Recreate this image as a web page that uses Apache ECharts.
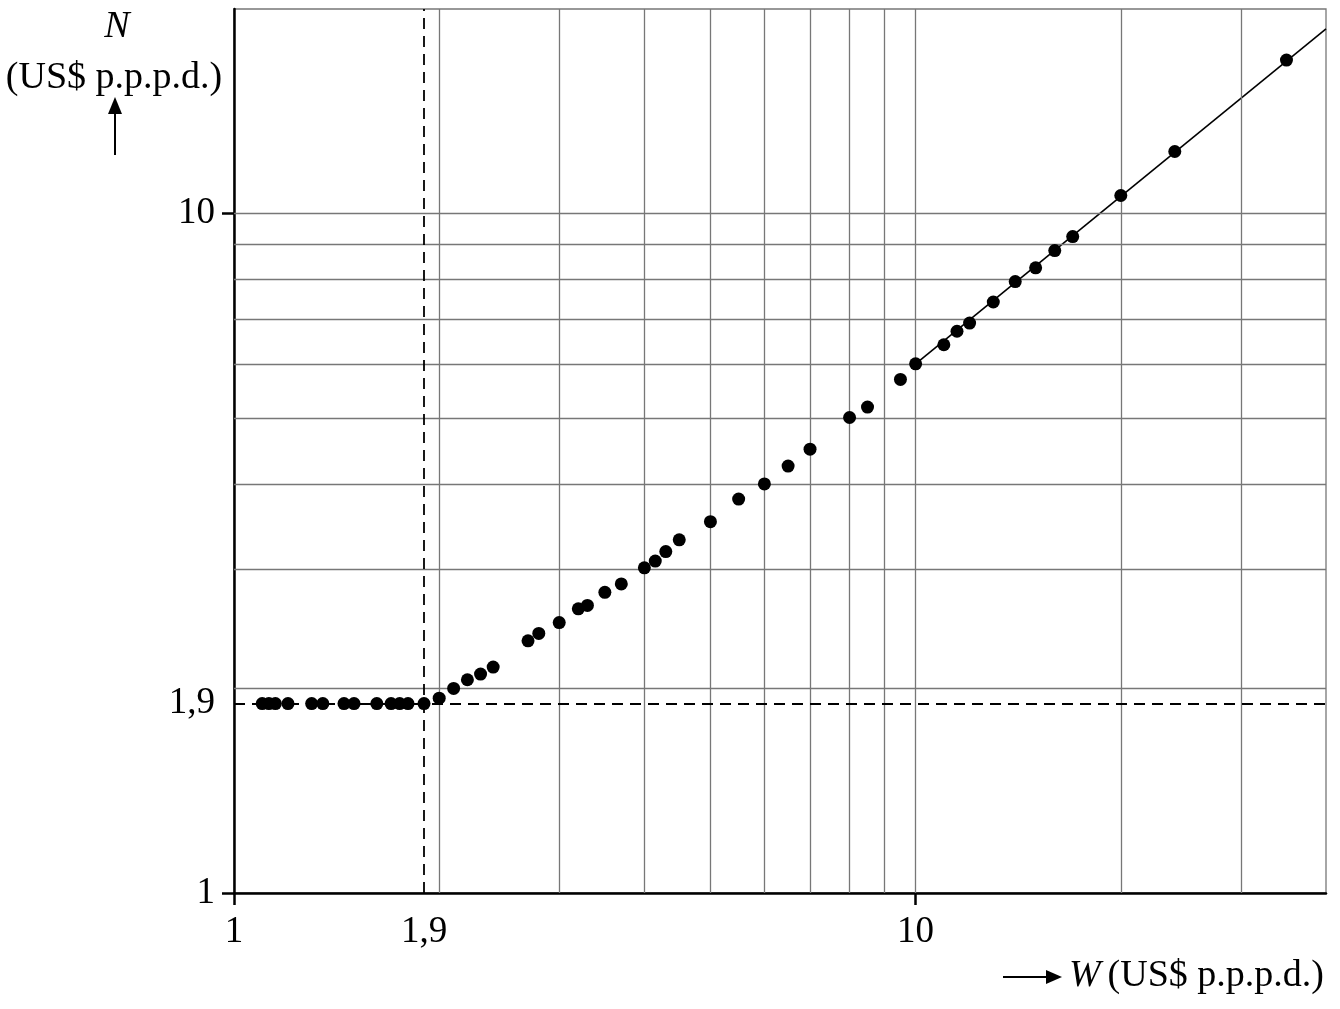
<!DOCTYPE html>
<html>
<head>
<meta charset="utf-8">
<script src="https://cdn.jsdelivr.net/npm/echarts@6/dist/echarts.min.js"></script>
<style>
html,body{margin:0;padding:0;background:#fff;}
#chart{width:1340px;height:1009px;}
</style>
</head>
<body>
<div id="chart"></div>
<script>
// ---- data ----
const W = [1.1,1.125,1.15,1.2,1.3,1.35,1.45,1.5,1.62,1.7,1.75,1.8,1.9,
  2.0,2.1,2.2,2.3,2.4,2.7,2.8,3.0,3.2,3.3,3.5,3.7,4.0,4.15,4.3,4.5,5.0,5.5,6.0,6.5,7.0,8.0,8.5,9.5,10,
  11,11.5,12,13,14,15,16,17,20,24,35];
const N = [1.9,1.9,1.9,1.9,1.9,1.9,1.9,1.9,1.9,1.9,1.9,1.9,1.9,
  1.935,2.0,2.06,2.1,2.15,2.35,2.41,2.5,2.62,2.65,2.77,2.85,3.01,3.08,3.18,3.31,3.52,3.8,4.0,4.25,4.5,5.01,5.19,5.7,6.01,
  6.41,6.71,6.9,7.41,7.94,8.32,8.82,9.25,10.63,12.34,16.82];
const fitW = [10, 40];
const fitN = [6.01, 18.7];
const gridX = [2,3,4,5,6,7,8,9,10,20,30];
const gridY = [2,3,4,5,6,7,8,9,10];
const xTickLabels = [1, 1.9, 10];
const yTickLabels = [1, 1.9, 10];
const majorTicks = [1, 10];
const refW = 1.9;
const refN = 1.9;

const FONT = '"Liberation Serif", "Times New Roman", serif';
const FS = 37;   // tick labels
const FN = 38;   // axis names

const points = W.map((w, i) => [w, N[i]]);
const fit = fitW.map((w, i) => [w, fitN[i]]);

const gridStyle = {color: '#777', width: 1.3, type: 'solid'};
const dashStyle = {color: '#000', width: 1.8, type: [11, 7]};
const markData = []
  .concat(gridX.map(v => ({xAxis: v, lineStyle: gridStyle})))
  .concat(gridY.map(v => ({yAxis: v, lineStyle: gridStyle})))
  .concat([{xAxis: refW, lineStyle: dashStyle}, {yAxis: refN, lineStyle: dashStyle}]);

const fmt = v => String(v).replace('.', ',');

const chart = echarts.init(document.getElementById('chart'), null, {renderer: 'canvas'});
chart.setOption({
  animation: false,
  backgroundColor: '#fff',
  textStyle: {fontFamily: FONT},
  grid: {left: 234, right: 14, top: 9, bottom: 116, show: true, borderColor: '#777', borderWidth: 1.3, backgroundColor: 'transparent'},
  xAxis: {
    type: 'log', logBase: 10, min: 1, max: 40,
    axisLine: {show: true, lineStyle: {color: '#000', width: 2.5}},
    axisTick: {show: true, inside: false, length: 12, lineStyle: {color: '#000', width: 2.5}, customValues: majorTicks},
    axisLabel: {show: true, margin: 21, color: '#000', fontSize: FS, fontFamily: FONT, customValues: xTickLabels, formatter: fmt},
    splitLine: {show: false},
    minorTick: {show: false}
  },
  yAxis: {
    type: 'log', logBase: 10, min: 1, max: 20,
    axisLine: {show: true, lineStyle: {color: '#000', width: 2.5}},
    axisTick: {show: true, inside: false, length: 12, lineStyle: {color: '#000', width: 2.5}, customValues: majorTicks},
    axisLabel: {show: true, margin: 19, color: '#000', fontSize: FS, fontFamily: FONT, customValues: yTickLabels, formatter: fmt},
    splitLine: {show: false},
    minorTick: {show: false}
  },
  series: [
    {
      type: 'line', data: fit, symbol: 'none', z: 2,
      lineStyle: {color: '#000', width: 1.6},
      markLine: {silent: true, symbol: ['none', 'none'], label: {show: false}, animation: false, data: markData}
    },
    {
      type: 'scatter', data: points, symbol: 'circle', symbolSize: 13, z: 5,
      itemStyle: {color: '#000', opacity: 1}
    }
  ],
  graphic: [
    {type: 'text', x: 117, y: 27, style: {text: 'N', font: 'italic ' + FN + 'px ' + FONT, fill: '#000', align: 'center', verticalAlign: 'middle'}},
    {type: 'text', x: 114, y: 78, style: {text: '(US$ p.p.p.d.)', font: FN + 'px ' + FONT, fill: '#000', align: 'center', verticalAlign: 'middle'}},
    {type: 'line', shape: {x1: 115, y1: 155, x2: 115, y2: 108}, style: {stroke: '#000', lineWidth: 2}},
    {type: 'polygon', shape: {points: [[115, 97], [108, 114], [122, 114]]}, style: {fill: '#000'}},
    {type: 'line', shape: {x1: 1003, y1: 977, x2: 1050, y2: 977}, style: {stroke: '#000', lineWidth: 2}},
    {type: 'polygon', shape: {points: [[1062, 977], [1046, 970], [1046, 984]]}, style: {fill: '#000'}},
    {type: 'text', x: 1069, y: 976, style: {text: 'W', font: 'italic ' + FN + 'px ' + FONT, fill: '#000', align: 'left', verticalAlign: 'middle'}},
    {type: 'text', x: 1324, y: 976, style: {text: '(US$ p.p.p.d.)', font: FN + 'px ' + FONT, fill: '#000', align: 'right', verticalAlign: 'middle'}}
  ]
});
</script>
</body>
</html>
